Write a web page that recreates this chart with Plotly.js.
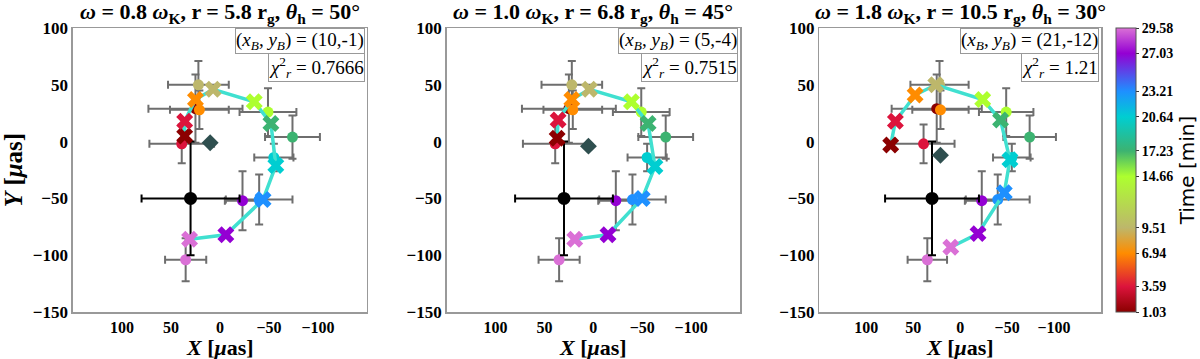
<!DOCTYPE html>
<html>
<head>
<meta charset="utf-8">
<script src="https://cdn.plot.ly/plotly-3.0.1.min.js"></script>
<style>
  html, body { margin: 0; padding: 0; background: white; }
  #graph { width: 1200px; height: 359px; }
</style>
</head>
<body>
<div id="graph"></div>
<script>
// observation times [min], also the colorbar ticks
const times = [1.03, 3.59, 6.94, 9.51, 14.66, 17.23, 20.64, 23.21, 27.03, 29.58];
const timeColors = ["darkred", "crimson", "darkorange", "darkkhaki", "greenyellow",
  "mediumseagreen", "darkturquoise", "dodgerblue", "darkviolet", "orchid"];

// observed positions (same in every panel)
const obsX = [25, 39, 21, 22, -49, -74, -55, -40, -23, 35];
const obsY = [29, -2, 28, 50, 26, 4, -14, -51, -52, -104];
const obsErrX = [48, 33, 30, 31, 29, 28, 20, 34, 18, 21];
const obsErrY = [30, 17, 17, 21, 21, 19, 12, 22, 26, 19];

// reference point with its big error bars
const centerX = [30];
const centerY = [-50];
const centerErr = [50];

// model hot-spot positions, one list per panel
const modelX1 = [36, 36, 25, 7, -35, -52, -57, -44, -6, 31];
const modelY1 = [5, 18, 37, 46, 35, 16, -21, -51, -82, -86];
const modelX2 = [37, 36, 22, 4, -39, -56, -63, -50, -15, 19];
const modelY2 = [3, 19, 37, 46, 35, 16, -22, -50, -82, -86];
const modelX3 = [74, 69, 48, 26, -24, -43, -53, -47, -19, 10];
const modelY3 = [-3, 18, 41, 50, 37, 19, -16, -45, -81, -93];

// best fit offsets (diamonds)
const bestX = [10, 5, 21];
const bestY = [-1, -4, -12];

const omegas = ["0.8", "1.0", "1.8"];
const radii = ["5.8", "6.8", "10.5"];
const incl = ["50", "45", "30"];
const chi2 = ["0.7666", "0.7515", "1.21"];

const xTicks = [100, 50, 0, -50, -100];
const yTicks = [-150, -100, -50, 0, 50, 100];

const tMin = times[0];
const tMax = times[times.length - 1];
const colorscale = times.map((t, i) => [(t - tMin) / (tMax - tMin), timeColors[i]]);

const domains = [[0.0608, 0.3058], [0.3722, 0.6167], [0.6828, 0.9175]];
const serif = "Liberation Serif";

const models = [[modelX1, modelY1], [modelX2, modelY2], [modelX3, modelY3]];

let traces = [];
let layout = {
  width: 1200,
  height: 359,
  margin: { l: 0, r: 0, t: 28, b: 47, autoexpand: false },
  paper_bgcolor: "white",
  plot_bgcolor: "white",
  showlegend: false,
  annotations: [],
};

models.forEach((m, i) => {
  const n = i === 0 ? "" : String(i + 1);
  const xa = "x" + n;
  const ya = "y" + n;

  // observed points with grey error bars
  traces.push({
    x: obsX, y: obsY, xaxis: xa, yaxis: ya,
    type: "scatter", mode: "markers",
    error_x: { type: "data", array: obsErrX, visible: true, color: "#6e6e6e", thickness: 2, width: 4 },
    error_y: { type: "data", array: obsErrY, visible: true, color: "#6e6e6e", thickness: 2, width: 4 },
    marker: {
      symbol: "circle", size: 11, color: times, colorscale: colorscale,
      cmin: tMin, cmax: tMax, line: { width: 0 },
      showscale: i === 2,
      colorbar: {
        x: 1116 / 1200, xanchor: "left", xpad: 0, y: 0.5, yanchor: "middle", ypad: 0,
        len: 1, lenmode: "fraction", thickness: 20, thicknessmode: "pixels",
        outlinewidth: 1, outlinecolor: "#555",
        tickvals: times, ticktext: times.map((t) => t.toFixed(2)),
        ticks: "outside", ticklen: 3, tickcolor: "#333",
        tickfont: { family: serif, size: 14, color: "black", weight: "bold" },
        title: { text: "Time [min]", side: "right", font: { family: "DejaVu Sans", size: 20, color: "black" } },
      },
    },
  });

  // black reference point
  traces.push({
    x: centerX, y: centerY, xaxis: xa, yaxis: ya,
    type: "scatter", mode: "markers",
    error_x: { type: "data", array: centerErr, visible: true, color: "black", thickness: 2, width: 4 },
    error_y: { type: "data", array: centerErr, visible: true, color: "black", thickness: 2, width: 4 },
    marker: { symbol: "circle", size: 13, color: "black" },
  });

  // model track
  traces.push({
    x: m[0], y: m[1], xaxis: xa, yaxis: ya,
    type: "scatter", mode: "lines",
    line: { color: "#40E0D0", width: 3.5 },
  });
  traces.push({
    x: m[0], y: m[1], xaxis: xa, yaxis: ya,
    type: "scatter", mode: "markers",
    marker: {
      symbol: "x", size: 15, color: times, colorscale: colorscale,
      cmin: tMin, cmax: tMax, line: { width: 0 }, showscale: false,
    },
  });

  // best fit offset
  traces.push({
    x: [bestX[i]], y: [bestY[i]], xaxis: xa, yaxis: ya,
    type: "scatter", mode: "markers",
    marker: { symbol: "diamond", size: 13, color: "darkslategray" },
  });

  layout["xaxis" + n] = {
    domain: domains[i], anchor: ya,
    range: [150, -150], tickvals: xTicks, zeroline: false, showgrid: false,
    showline: true, mirror: true, linecolor: "#999", linewidth: 1.5,
    ticks: "", automargin: false,
    tickfont: { family: serif, size: 16, color: "black", weight: "bold" },
  };
  layout["yaxis" + n] = {
    domain: [0, 1], anchor: xa,
    range: [-150, 100], tickvals: yTicks, zeroline: false, showgrid: false,
    showline: true, mirror: true, linecolor: "#999", linewidth: 1.5,
    ticks: "", automargin: false,
    tickfont: { family: serif, size: 17, color: "black", weight: "bold" },
    title: i === 0 ? {
      text: "<b><i>Y</i> [<i>μ</i>as]</b>", standoff: 6,
      font: { family: serif, size: 25, color: "black" },
    } : { text: "" },
  };

  const mid = (domains[i][0] + domains[i][1]) / 2;
  layout.annotations.push({
    xref: "paper", yref: "paper", x: mid, y: (312 - 13) / 284,
    xanchor: "center", yanchor: "middle", showarrow: false,
    text: "<b><i>ω</i> = " + omegas[i] + " <i>ω</i><sub>K</sub>, r = " + radii[i] +
      " r<sub>g</sub>, <i>θ</i><sub>h</sub> = " + incl[i] + "°</b>",
    font: { family: serif, size: 22, color: "black" },
  });
  // x axis title
  layout.annotations.push({
    xref: "paper", yref: "paper", x: mid, y: (312 - 347) / 284,
    xanchor: "center", yanchor: "middle", showarrow: false,
    text: "<b><i>X</i> [<i>μ</i>as]</b>",
    font: { family: serif, size: 22, color: "black" },
  });
  layout.annotations.push({
    xref: "paper", yref: "paper", x: domains[i][1], y: 1, xshift: -2,
    xanchor: "right", yanchor: "top", showarrow: false,
    text: "(<i>x<sub>B</sub></i>, <i>y<sub>B</sub></i>) = (" + bestX[i] + ",-" + Math.abs(bestY[i]) + ")",
    font: { family: serif, size: 19, color: "black" },
    bgcolor: "white", bordercolor: "#999", borderwidth: 1, borderpad: 0,
  });
  layout.annotations.push({
    xref: "paper", yref: "paper", x: domains[i][1], y: (312 - 53) / 284, xshift: -2,
    xanchor: "right", yanchor: "top", showarrow: false,
    text: "<i>χ</i><sup>2</sup><sub><i>r</i></sub> = " + chi2[i],
    font: { family: serif, size: 19, color: "black" },
    bgcolor: "white", bordercolor: "#999", borderwidth: 1, borderpad: 0,
  });
});

Plotly.newPlot("graph", traces, layout, { displayModeBar: false, staticPlot: true });
</script>
</body>
</html>
